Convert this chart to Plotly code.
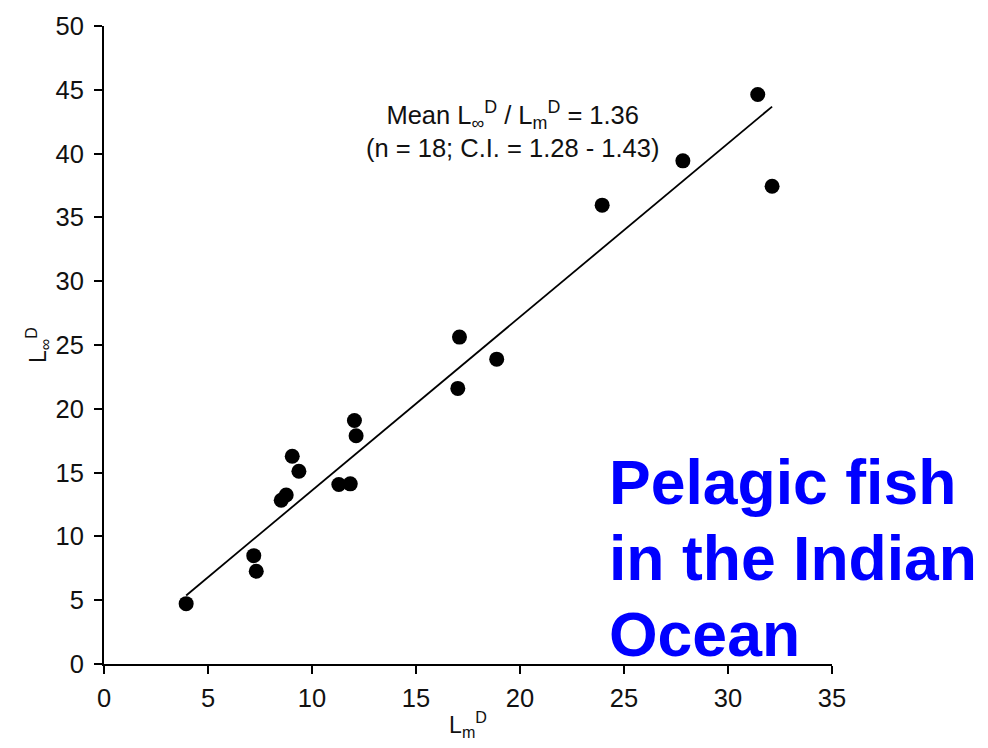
import plotly.graph_objects as go

# Data
lm_d = [3.95, 7.20, 7.32, 8.52, 8.76, 9.05, 9.37, 11.29, 11.84, 12.04, 12.12,
        17.01, 17.09, 18.88, 23.95, 27.83, 31.43, 32.12]
linf_d = [4.73, 8.49, 7.27, 12.83, 13.24, 16.28, 15.11, 14.07, 14.12, 19.08, 17.89,
          21.60, 25.62, 23.89, 35.96, 39.43, 44.63, 37.44]
mean_ratio = 1.36
x_ticks = [0, 5, 10, 15, 20, 25, 30, 35]
y_ticks = [0, 5, 10, 15, 20, 25, 30, 35, 40, 45, 50]
stat_lines = ["Mean L<sub>∞</sub><sup>D</sup> / L<sub>m</sub><sup>D</sup> = 1.36",
              "(n = 18; C.I. = 1.28 - 1.43)"]
label_lines = ["Pelagic fish", "in the Indian", "Ocean"]

FONT = "Liberation Sans, Arial, sans-serif"

x_line = [min(lm_d), max(lm_d)]
y_line = [mean_ratio * v for v in x_line]

fig = go.Figure()
fig.add_trace(go.Scatter(x=x_line, y=y_line, mode="lines",
                         line=dict(color="black", width=1.8),
                         hoverinfo="skip", showlegend=False))
fig.add_trace(go.Scatter(x=lm_d, y=linf_d, mode="markers",
                         marker=dict(color="black", size=15),
                         showlegend=False, cliponaxis=False))

# Statistics text
fig.add_annotation(x=19.66, y=41.85, xref="x", yref="y", text="<br>".join(stat_lines),
                   showarrow=False, xanchor="center", yanchor="middle", align="center",
                   font=dict(family=FONT, size=25.5, color="#111111"))

# Big blue label
for txt, yv in zip(label_lines, [14.3, 8.34, 2.39]):
    fig.add_annotation(x=24.2, y=yv, xref="x", yref="y", text="<b>" + txt + "</b>",
                       showarrow=False, xanchor="left", yanchor="middle",
                       font=dict(family=FONT, size=62.5, color="#0000FF"))

axis_common = dict(showline=True, linecolor="black", linewidth=2,
                   ticks="outside", ticklen=8, tickwidth=2, tickcolor="black",
                   showgrid=False, zeroline=False,
                   tickfont=dict(family=FONT, size=25.5, color="#111111"))

fig.update_xaxes(range=[0, 35], tickvals=x_ticks, ticktext=[str(v) for v in x_ticks],
                 title=dict(text="L<sub>m</sub><sup>D</sup>", standoff=6,
                            font=dict(family=FONT, size=23, color="#111111")),
                 ticklabelstandoff=2, **axis_common)
fig.update_yaxes(range=[0, 50], tickvals=y_ticks, ticktext=[str(v) for v in y_ticks],
                 title=dict(text="L<sub>∞</sub><sup>D</sup>", standoff=2,
                            font=dict(family=FONT, size=23, color="#111111")),
                 ticklabelstandoff=5, **axis_common)

fig.update_layout(width=988, height=748, autosize=False,
                  margin=dict(l=104, r=156, t=22, b=84),
                  paper_bgcolor="white", plot_bgcolor="white",
                  font=dict(family=FONT))

fig.write_html("out.html")
